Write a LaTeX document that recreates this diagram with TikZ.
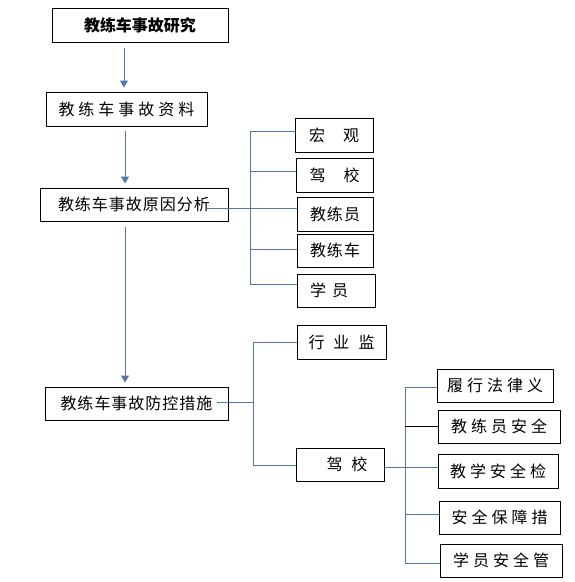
\documentclass[tikz,border=0pt]{standalone}
\usepackage{fontspec}
\newfontfamily\cjk{Noto Sans CJK SC}
\usetikzlibrary{arrows.meta,calc}
\definecolor{lc}{RGB}{84,118,170}
\newcommand\kp[1]{\kern#1pt}
\begin{document}
\begin{tikzpicture}[x=1pt,y=-1pt,
  box/.style={draw=black, line width=1pt, inner sep=0pt, font=\cjk\fontsize{16}{16}\selectfont},
  conn/.style={draw=lc, line width=1pt},
  arr/.style={conn, -{Triangle[length=7pt,width=8pt]}}]
\useasboundingbox (0,0) rectangle (575,582);
% main column
\node[box, minimum width=176pt, minimum height=34pt, font=\cjk\bfseries\fontsize{16}{16}\selectfont] (b1) at (140,25) {教练车事故研究};
\node[box, minimum width=161pt, minimum height=34pt] (b2) at (126.5,109) {教\kp4练\kp4车\kp4事\kp4故\kp4资\kp4料};
\node[box, minimum width=188pt, minimum height=33pt] (b3) at (134,204.5) {教\kp1练\kp1车\kp1事\kp1故\kp1原\kp1因\kp1分\kp1析};
\node[box, minimum width=183pt, minimum height=33pt] (b4) at (136.5,403.5) {教\kp1练\kp1车\kp1事\kp1故\kp1防\kp1控\kp1措\kp1施};
% cause boxes
\node[box, minimum width=78pt, minimum height=34pt] (m1) at (334,135) {宏\kp{18}观};
\node[box, minimum width=77pt, minimum height=34pt] (m2) at (334.5,175) {驾\kp{18}校};
\node[box, minimum width=76pt, minimum height=34pt] (m3) at (335,214) {教\kp1练\kp1员};
\node[box, minimum width=76pt, minimum height=33pt] (m4) at (335,250.5) {教\kp1练\kp1车};
\node[box, minimum width=78pt, minimum height=33pt] (m5) at (336,290.5) {学\kp6员\kp{14}};
% measure boxes
\node[box, minimum width=89pt, minimum height=34pt] (p1) at (341.5,342) {行\kp9业\kp9监};
\node[box, minimum width=88pt, minimum height=33pt] (p2) at (340,464.5) {\kp{14}驾\kp9校};
\node[box, minimum width=116pt, minimum height=33pt] (q1) at (495,385.5) {履\kp4行\kp4法\kp4律\kp4义};
\node[box, minimum width=122pt, minimum height=33pt] (q2) at (499,426.5) {教\kp4练\kp4员\kp4安\kp4全};
\node[box, minimum width=120pt, minimum height=34pt] (q3) at (498,471) {教\kp4学\kp4安\kp4全\kp4检};
\node[box, minimum width=121pt, minimum height=33pt] (q4) at (499.5,517.5) {安\kp4全\kp4保\kp4障\kp4措};
\node[box, minimum width=122pt, minimum height=33pt] (q5) at (501,560.5) {学\kp4员\kp4安\kp4全\kp4管};
% arrows
\draw[arr] ($(b1.south)+(-16,5)$) -- ($(b2.north)+(-2.5,-4)$);
\draw[arr] ($(b2.south)+(-1.5,4)$) -- ($(b3.north)+(-9,-4)$);
\draw[arr] ($(b3.south)+(-9,5)$) -- ($(b4.north)+(-11.5,-4)$);
% tree 1
\coordinate (t1a) at (250,131);
\coordinate (t1b) at (250,284);
\coordinate (c3) at (207,208);
\draw[conn] (t1a) -- (t1b);
\draw[conn] (t1a) -- (m1.west |- t1a);
\draw[conn] (250,171) -- (m2.west |- 0,171);
\draw[conn] (c3) -- (m3.west |- c3);
\draw[conn] (250,249) -- (m4.west |- 0,249);
\draw[conn] (t1b) -- (m5.west |- t1b);
% tree 2
\coordinate (t2a) at (253,342);
\coordinate (t2b) at (253,465);
\coordinate (c4) at (217,402);
\draw[conn] (t2a) -- (t2b);
\draw[conn] (t2a) -- (p1.west |- t2a);
\draw[conn] (c4) -- (253,402);
\draw[conn] (t2b) -- (p2.west |- t2b);
% tree 3
\coordinate (t3a) at (405,387);
\coordinate (t3b) at (405,563);
\draw[conn] (p2.east |- 0,467) -- (405,467);
\draw[conn] (t3a) -- (t3b);
\draw[conn] (t3a) -- (q1.west |- t3a);
\draw[line width=1pt, draw=black] (405,426) -- (q2.west |- 0,426);
\draw[conn] (405,467) -- (q3.west |- 0,467);
\draw[conn] (405,514) -- (q4.west |- 0,514);
\draw[conn] (t3b) -- (q5.west |- t3b);
\end{tikzpicture}
\end{document}
